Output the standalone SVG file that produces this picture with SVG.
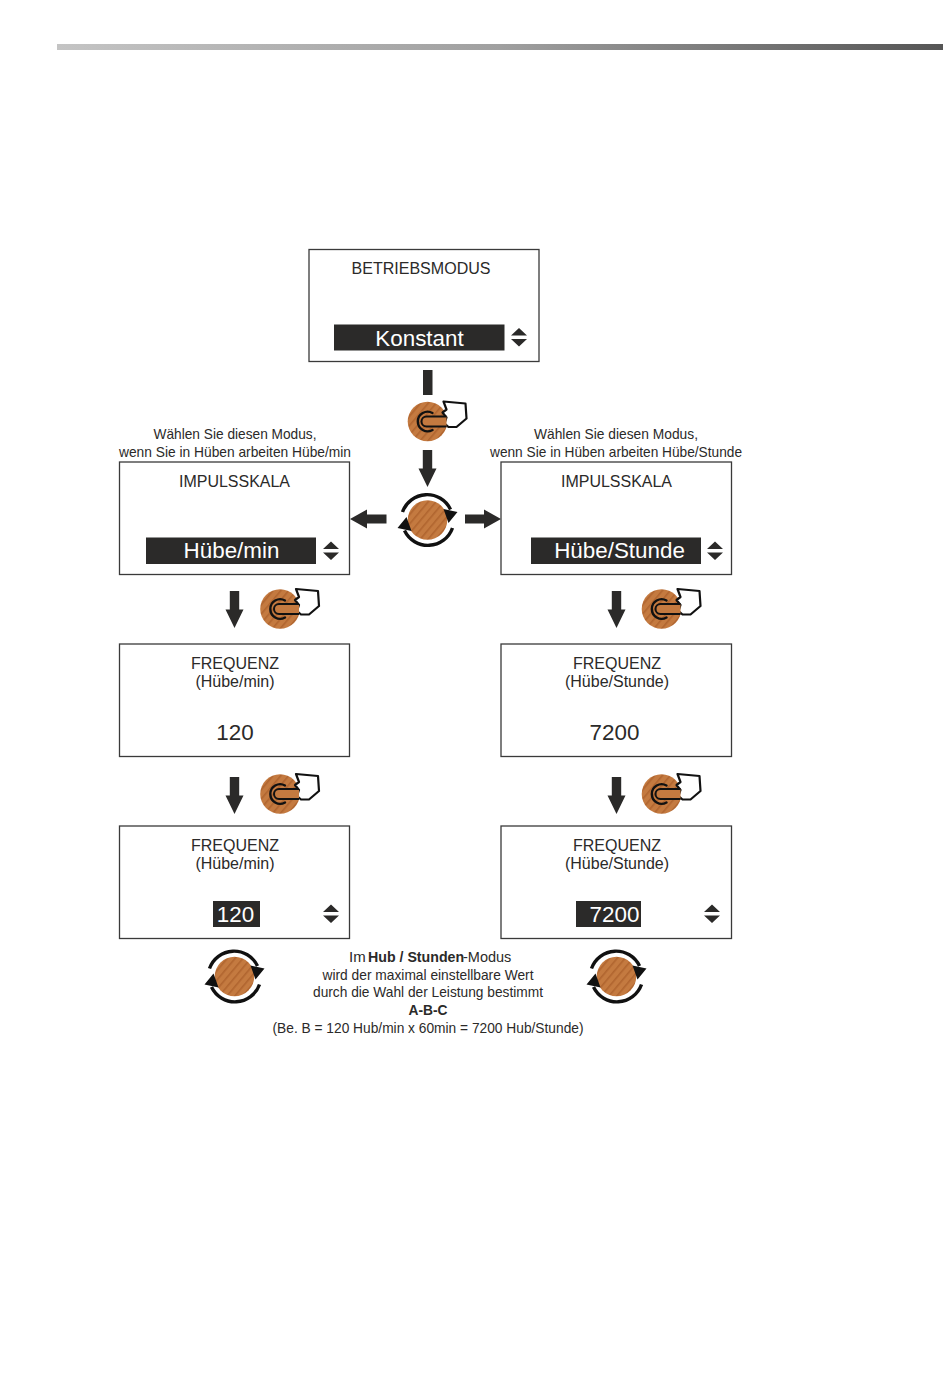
<svg xmlns="http://www.w3.org/2000/svg" xmlns:xlink="http://www.w3.org/1999/xlink" width="950" height="1378" viewBox="0 0 950 1378">
<style>
text{font-family:"Liberation Sans",Arial,sans-serif;fill:#2b2a29;text-anchor:middle}
.box{fill:#fff;stroke:#3a3a3a;stroke-width:1.3}
.sel{fill:#2b2a29}
.t{font-size:16px}
.v{font-size:22.4px}
.c{font-size:15px}
.arr{fill:#2b2a29}
.ink{fill:none;stroke:#111;stroke-linejoin:round;stroke-linecap:round}
</style>
<defs>
<linearGradient id="bar"><stop offset="0" stop-color="#c4c4c4"/><stop offset="0.5" stop-color="#a0a0a0"/><stop offset="1" stop-color="#555"/></linearGradient>
<pattern id="wood" width="6" height="6" patternUnits="userSpaceOnUse" patternTransform="rotate(-50)">
<rect width="6" height="6" fill="#c47a40"/><rect width="6" height="1.600" fill="#b0652f"/>
</pattern>
<g id="updown"><path class="arr" d="M-8-2 0-9.500 8-2ZM-8 1.500 0 9 8 1.500Z"/></g>
<g id="knob"><circle r="19.800" fill="url(#wood)"/></g>
<g id="press">
<use href="#knob"/>
<path d="M16-20 38-18 39-3 29 5.500 21 5.500 17 2 19-4 15-9 19-12 Z" fill="#fff" stroke="#111" stroke-width="2.200" stroke-linejoin="round"/>
<path class="ink" d="M5-8.500A9.800 9.800 0 1 0 5 8.500" style="stroke-width:2.400"/>
<path d="M19-5H-1A5 5 0 0 0-1 5H19" fill="#c47a40" stroke="#111" stroke-width="2"/>
</g>
<g id="turn">
<use href="#knob"/>
<path class="ink" d="M-25-8A26 26 0 0 1 23-10.500" style="stroke-width:3.400;stroke-linecap:butt"/>
<path class="ink" d="M25 8A26 26 0 0 1-23 10.500" style="stroke-width:3.400;stroke-linecap:butt"/>
<path d="M16-11 30-8 21 3Z M-16 11-30 8-21-3Z" fill="#111"/>
</g>
<path id="down" class="arr" d="M-4.700 0H4.700V18.500H9L0 37-9 18.500H-4.700Z"/>
</defs>
<rect id="header-bar" x="57" y="44" width="886" height="6" fill="url(#bar)"/>
<g id="connectors">
<rect class="arr" x="423" y="370" width="9.500" height="25"/>
<use href="#down" x="427.500" y="450"/>
<path class="arr" d="M386.500 514.500V523.500H367V528.500L350 519 367 509.500V514.500Z"/>
<path class="arr" d="M465 514.500V523.500H484V528.500L501 519 484 509.500V514.500Z"/>
<use href="#down" x="234.500" y="591"/>
<use href="#down" x="616.500" y="591"/>
<use href="#down" x="234.500" y="777"/>
<use href="#down" x="616.500" y="777"/>
</g>
<g id="node-betriebsmodus">
<rect class="box" x="309" y="249.500" width="230" height="112"/>
<text class="t" x="421" y="274" textLength="139" lengthAdjust="spacingAndGlyphs">BETRIEBSMODUS</text>
<rect class="sel" x="334" y="324.500" width="170.500" height="26"/>
<text class="v" style="fill:#fff" x="419.500" y="345.500">Konstant</text>
<use href="#updown" x="519" y="337.500"/>
</g>
<g id="press-1"><use href="#press" x="427.500" y="421.500"/></g>
<g id="turn-1"><use href="#turn" x="427.500" y="520"/></g>
<g id="caption-left">
<text class="c" x="235" y="438.500" textLength="163" lengthAdjust="spacingAndGlyphs">Wählen Sie diesen Modus,</text>
<text class="c" x="235" y="456.500" textLength="232" lengthAdjust="spacingAndGlyphs">wenn Sie in Hüben arbeiten Hübe/min</text>
</g>
<g id="caption-right">
<text class="c" x="616" y="438.500" textLength="164" lengthAdjust="spacingAndGlyphs">Wählen Sie diesen Modus,</text>
<text class="c" x="616" y="456.500" textLength="252" lengthAdjust="spacingAndGlyphs">wenn Sie in Hüben arbeiten Hübe/Stunde</text>
</g>
<g id="node-impuls-min">
<rect class="box" x="119.500" y="462" width="230" height="112.500"/>
<text class="t" x="234.500" y="487" textLength="111" lengthAdjust="spacingAndGlyphs">IMPULSSKALA</text>
<rect class="sel" x="146" y="537.500" width="170" height="26.500"/>
<text class="v" style="fill:#fff" x="231.500" y="558">Hübe/min</text>
<use href="#updown" x="331" y="551"/>
</g>
<g id="node-impuls-stunde">
<rect class="box" x="501" y="462" width="230.500" height="112.500"/>
<text class="t" x="616.500" y="487" textLength="111" lengthAdjust="spacingAndGlyphs">IMPULSSKALA</text>
<rect class="sel" x="531" y="537.500" width="170" height="26.500"/>
<text class="v" style="fill:#fff" x="619.500" y="558">Hübe/Stunde</text>
<use href="#updown" x="715" y="551"/>
</g>
<g id="press-2"><use href="#press" x="280" y="609"/></g>
<g id="press-3"><use href="#press" x="661.500" y="609"/></g>
<g id="node-freq-min">
<rect class="box" x="119.500" y="644" width="230" height="112.500"/>
<text class="t" x="235" y="669">FREQUENZ</text>
<text class="t" x="235" y="687">(Hübe/min)</text>
<text class="v" x="235" y="740">120</text>
</g>
<g id="node-freq-stunde">
<rect class="box" x="501" y="644" width="230.500" height="112.500"/>
<text class="t" x="617" y="669">FREQUENZ</text>
<text class="t" x="617" y="687">(Hübe/Stunde)</text>
<text class="v" x="614.500" y="740">7200</text>
</g>
<g id="press-4"><use href="#press" x="280" y="794"/></g>
<g id="press-5"><use href="#press" x="661.500" y="794"/></g>
<g id="node-freq-min-edit">
<rect class="box" x="119.500" y="826" width="230" height="112.500"/>
<text class="t" x="235" y="851">FREQUENZ</text>
<text class="t" x="235" y="869">(Hübe/min)</text>
<rect class="sel" x="213" y="901" width="47" height="26"/>
<text class="v" style="fill:#fff" x="235.500" y="922">120</text>
<use href="#updown" x="331" y="914"/>
</g>
<g id="node-freq-stunde-edit">
<rect class="box" x="501" y="826" width="230.500" height="112.500"/>
<text class="t" x="617" y="851">FREQUENZ</text>
<text class="t" x="617" y="869">(Hübe/Stunde)</text>
<rect class="sel" x="576" y="901" width="65" height="26"/>
<text class="v" style="fill:#fff" x="614.500" y="922">7200</text>
<use href="#updown" x="712" y="914"/>
</g>
<g id="turn-2"><use href="#turn" x="234.500" y="976.500"/></g>
<g id="turn-3"><use href="#turn" x="616.500" y="976.500"/></g>
<g id="note">
<text class="c" y="961.500" style="text-anchor:start"><tspan x="349">Im</tspan><tspan x="368" font-weight="bold" font-size="14.200">Hub / Stunden</tspan><tspan x="463" font-size="14.500">-Modus</tspan></text>
<text class="c" x="428" y="979.500" textLength="211" lengthAdjust="spacingAndGlyphs">wird der maximal einstellbare Wert</text>
<text class="c" x="428" y="997" textLength="230" lengthAdjust="spacingAndGlyphs">durch die Wahl der Leistung bestimmt</text>
<text class="c" x="428" y="1015" font-weight="bold" textLength="39" lengthAdjust="spacingAndGlyphs">A-B-C</text>
<text class="c" x="428" y="1033" textLength="311" lengthAdjust="spacingAndGlyphs">(Be. B = 120 Hub/min x 60min = 7200 Hub/Stunde)</text>
</g>
</svg>
